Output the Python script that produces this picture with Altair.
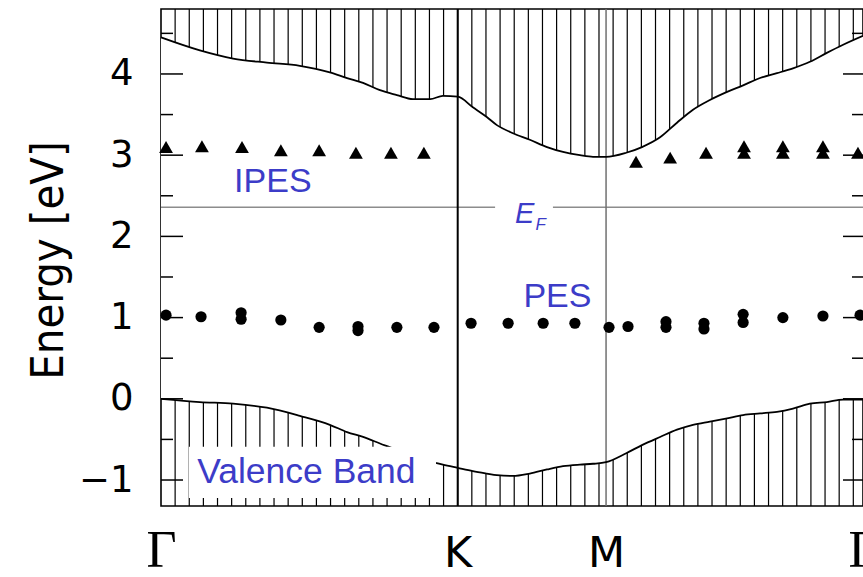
import altair as alt
import numpy as np
import pandas as pd

# High-symmetry path Γ–K–M–Γ of the hexagonal zone (k in units of |ΓK|)
path_labels = ["Γ", "K", "M", "Γ"]
path_k = [0.0, 1.0, 1.5, 2.366]

# Projected band edges along the path [eV]
k_grid = [0.000, 0.131, 0.243, 0.357, 0.468, 0.569, 0.627, 0.681, 0.738, 0.795,
          0.849, 0.907, 0.950, 1.000, 1.051, 1.098, 1.132, 1.186, 1.243, 1.301,
          1.355, 1.412, 1.456, 1.500, 1.568, 1.621, 1.682, 1.739, 1.793, 1.850,
          1.908, 1.962, 2.019, 2.076, 2.130, 2.187, 2.244, 2.299, 2.366]
cb_edge = [4.45, 4.29, 4.19, 4.14, 4.10, 4.02, 3.95, 3.89, 3.80, 3.74,
           3.69, 3.69, 3.73, 3.72, 3.59, 3.47, 3.37, 3.27, 3.19, 3.10,
           3.04, 3.00, 2.98, 2.98, 3.03, 3.10, 3.22, 3.40, 3.56, 3.68,
           3.78, 3.86, 3.95, 4.01, 4.07, 4.15, 4.26, 4.36, 4.47]
vb_edge = [0.00, -0.04, -0.06, -0.11, -0.21, -0.32, -0.41, -0.47, -0.55, -0.63,
           -0.70, -0.77, -0.81, -0.85, -0.89, -0.92, -0.94, -0.95, -0.92, -0.87,
           -0.83, -0.81, -0.80, -0.78, -0.67, -0.57, -0.47, -0.38, -0.32, -0.28,
           -0.24, -0.20, -0.18, -0.16, -0.12, -0.06, -0.04, -0.01, -0.01]

# Inverse photoemission (unoccupied state)
ipes_k = [0.017, 0.138, 0.273, 0.404, 0.533, 0.657, 0.775, 0.886,
          1.601, 1.716, 1.837, 1.965, 1.965, 2.096, 2.096, 2.231, 2.231, 2.349]
ipes_e = [3.10, 3.11, 3.10, 3.06, 3.06, 3.03, 3.03, 3.03,
          2.92, 2.97, 3.03, 3.11, 3.03, 3.11, 3.03, 3.11, 3.03, 3.03]

# Photoemission (occupied state)
pes_k = [0.017, 0.135, 0.270, 0.270, 0.404, 0.533, 0.664, 0.664, 0.795, 0.920,
         1.045, 1.170, 1.288, 1.395, 1.510, 1.574, 1.702, 1.702, 1.830, 1.830,
         1.962, 1.962, 2.096, 2.231, 2.356]
pes_e = [1.03, 1.01, 1.06, 0.98, 0.97, 0.88, 0.89, 0.84, 0.88, 0.88,
         0.93, 0.93, 0.93, 0.93, 0.88, 0.89, 0.95, 0.88, 0.93, 0.86,
         1.04, 0.94, 1.00, 1.02, 1.03]

fermi_level = 2.36
major_ticks = [-1, 0, 1, 2, 3, 4]
minor_ticks = [-0.5, 0.5, 1.5, 2.5, 3.5, 4.5]

E_MIN, E_MAX = -1.32, 4.80
K_MAX = path_k[-1]
W, H = 702, 497
BLUE = "#3c3cc8"

xs = alt.Scale(domain=[0, K_MAX], nice=False, zero=False)
ys = alt.Scale(domain=[E_MIN, E_MAX], nice=False, zero=False)

SANS_POINTS = "datum.value == 1 || datum.value == 1.5"
x_axis = alt.Axis(
    values=path_k,
    labelExpr="datum.value == 1 ? 'K' : (datum.value == 1.5 ? 'M' : 'Γ')",
    labelFont={"condition": {"test": SANS_POINTS, "value": "DejaVu Sans"},
               "value": "Liberation Serif"},
    labelFontSize={"condition": {"test": SANS_POINTS, "value": 43}, "value": 52},
    labelColor="black", labelBaseline="alphabetic", labelPadding=60,
    labelFlush=False, labelOverlap=False, labelBound=False,
    ticks=False, domain=False, grid=False, title=None,
)
y_axis = alt.Axis(
    values=major_ticks, labelFont="DejaVu Sans", labelFontSize=37,
    labelColor="black", labelPadding=28, labelOverlap=False,
    ticks=False, domain=False, grid=False,
    title="Energy [eV]", titleFont="DejaVu Sans Condensed, Liberation Sans",
    titleFontSize=45, titleFontWeight="normal", titleColor="black", titleAngle=270,
    titleAlign="center", titleBaseline="alphabetic", titleX=-99, titleY=251,
)


def X(field):
    return alt.X(field, scale=xs, axis=x_axis)


def Y(field):
    return alt.Y(field, scale=ys, axis=y_axis)


# vertical hatching of the projected bulk bands
hatch = pd.DataFrame({"k": np.arange(1, 50) / 21.0, "e0": E_MIN, "e1": E_MAX})
hatch_layer = alt.Chart(hatch).mark_rule(color="black", strokeWidth=1.2).encode(
    x=X("k:Q"), y=Y("e0:Q"), y2="e1:Q",
)

bands = pd.DataFrame({"k": k_grid, "cb": cb_edge, "vb": vb_edge})
gap_layer = alt.Chart(bands).mark_area(color="white", opacity=1, interpolate="monotone").encode(
    x=X("k:Q"), y=Y("vb:Q"), y2="cb:Q",
)

edges = pd.concat([
    pd.DataFrame({"k": k_grid, "e": cb_edge, "band": "cb"}),
    pd.DataFrame({"k": k_grid, "e": vb_edge, "band": "vb"}),
])
edge_layer = alt.Chart(edges).mark_line(color="black", strokeWidth=1.8, interpolate="monotone").encode(
    x=X("k:Q"), y=Y("e:Q"), detail="band:N",
)

fermi_layer = alt.Chart(pd.DataFrame({"e": [fermi_level]})).mark_rule(
    color="#8c8c8c", strokeWidth=1.5).encode(y=Y("e:Q"))

k_line = alt.Chart(pd.DataFrame({"k": [path_k[1]]})).mark_rule(
    color="black", strokeWidth=2).encode(x=X("k:Q"))
m_line = alt.Chart(pd.DataFrame({"k": [path_k[2]]})).mark_rule(
    color="#707070", strokeWidth=1.5).encode(x=X("k:Q"))

# white backing boxes behind labels
boxes = pd.DataFrame({"k0": [0.094, 1.126], "k1": [0.927, 1.321],
                      "e0": [-1.22, 2.27], "e1": [-0.59, 2.45]})
box_layer = alt.Chart(boxes).mark_rect(color="white").encode(
    x=X("k0:Q"), x2="k1:Q", y=Y("e0:Q"), y2="e1:Q",
)

labels = pd.DataFrame({"k": [0.377, 1.336], "e": [2.55, 1.13], "t": ["IPES", "PES"]})
label_layer = alt.Chart(labels).mark_text(
    font="Liberation Sans", fontSize=34, color=BLUE, align="center", baseline="alphabetic"
).encode(x=X("k:Q"), y=Y("e:Q"), text="t:N")

vb_label = alt.Chart(pd.DataFrame({"k": [0.490], "e": [-1.037], "t": ["Valence Band"]})).mark_text(
    font="Liberation Sans", fontSize=35.5, color=BLUE, align="center", baseline="alphabetic"
).encode(x=X("k:Q"), y=Y("e:Q"), text="t:N")

ef_e = alt.Chart(pd.DataFrame({"k": [1.193], "e": [2.165], "t": ["E"]})).mark_text(
    font="Liberation Sans", fontSize=29, fontStyle="italic", color=BLUE,
    align="left", baseline="alphabetic"
).encode(x=X("k:Q"), y=Y("e:Q"), text="t:N")
ef_f = alt.Chart(pd.DataFrame({"k": [1.262], "e": [2.08], "t": ["F"]})).mark_text(
    font="Liberation Sans", fontSize=17, fontStyle="italic", color=BLUE,
    align="left", baseline="alphabetic"
).encode(x=X("k:Q"), y=Y("e:Q"), text="t:N")

ipes_layer = alt.Chart(pd.DataFrame({"k": ipes_k, "e": ipes_e})).mark_point(
    shape="triangle-up", filled=True, color="black", opacity=1, size=190
).encode(x=X("k:Q"), y=Y("e:Q"))

pes_layer = alt.Chart(pd.DataFrame({"k": pes_k, "e": pes_e})).mark_circle(
    color="black", opacity=1, size=125
).encode(x=X("k:Q"), y=Y("e:Q"))


# inward ticks on both vertical frame edges
def tick_layer(values, x0, x1):
    return alt.Chart(pd.DataFrame({"e": values})).mark_rule(
        color="black", strokeWidth=1.5
    ).encode(x=alt.value(x0), x2=alt.value(x1), y=Y("e:Q"))


ticks = [
    tick_layer(major_ticks, 0, 22), tick_layer(minor_ticks, 0, 12),
    tick_layer(major_ticks, W, W - 20), tick_layer(minor_ticks, W, W - 11),
]

chart = alt.layer(
    hatch_layer, gap_layer, fermi_layer, k_line, m_line, edge_layer,
    box_layer, label_layer, vb_label, ef_e, ef_f, ipes_layer, pes_layer, *ticks,
).properties(
    width=W, height=H,
    autosize=alt.AutoSizeParams(type="none"),
    padding={"left": 161, "top": 9, "right": 0, "bottom": 71},
    background="white",
).configure_view(stroke="black", strokeWidth=1.6)

chart.save("out.html", embed_options={"renderer": "svg", "actions": False})
